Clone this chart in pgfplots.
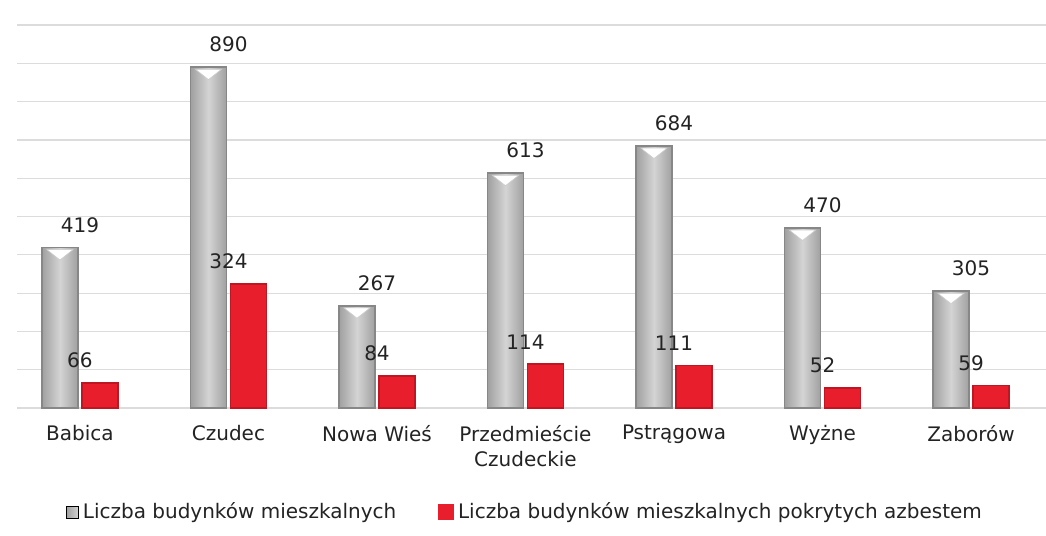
\documentclass[border=0pt]{standalone}
\usepackage{fontspec}
\setmainfont{DejaVu Sans}
\usepackage{pgfplots}
\usepackage{pgfplotstable}
\pgfplotsset{compat=1.18}
\definecolor{barred}{RGB}{232,30,44}
\definecolor{barredd}{RGB}{190,22,34}
\definecolor{grayL}{RGB}{160,160,160}
\definecolor{grayM}{RGB}{212,212,212}
\definecolor{grayB}{RGB}{135,135,135}
\definecolor{txt}{RGB}{35,35,35}
\definecolor{gridc}{RGB}{220,220,220}

\pgfplotstableread{
x total asb
0 419 66
1 890 324
2 267 84
3 613 114
4 684 111
5 470 52
6 305 59
}\data

\begin{document}
\begin{tikzpicture}
\path[use as bounding box] (-8.5pt,-64pt) rectangle (514.5pt,204pt);
\begin{axis}[
  at={(0,0)}, anchor=south west,
  scale only axis, width=514.5pt, height=191.5pt,
  xmin=-0.424, xmax=6.505, ymin=0, ymax=1000,
  clip=false,
  axis line style={draw=none},
  major tick length=0pt,
  ytick={0,100,...,1000}, yticklabels={},
  ymajorgrids, grid style={gridc, line width=0.6pt},
  xtick={0,...,6},
  xticklabels={Babica, Czudec, Nowa Wieś, {Przedmieście\\Czudeckie}, Pstrągowa, Wyżne, Zaborów},
  xticklabel style={align=center, font=\fontsize{10}{12.5}\selectfont, text=txt, yshift=-5pt},
  /pgf/number format/assume math mode=true,
  every node near coord/.append style={font=\fontsize{10}{12}\selectfont, text=txt, yshift=3.7pt},
  legend style={at={(0.5,0)}, anchor=center, xshift=-2.75pt, yshift=-52pt, draw=none, fill=none,
    font=\fontsize{10}{12}\selectfont, text=txt, legend columns=-1,
    /tikz/every even column/.append style={column sep=19pt}},
]
\pgfplotsinvokeforeach{0,...,6}{
\addplot[forget plot, ybar, bar width=18pt, bar shift=-10pt, draw=grayB, line width=0.9pt,
  left color=grayL, right color=grayL, middle color=grayM,
  nodes near coords,
  restrict expr to domain={\coordindex}{#1:#1}]
  table[x=x,y=total]{\data};
}
\addlegendimage{legend image code/.code={\shade[left color=grayL,right color=grayM] (0pt,-3pt) rectangle (6pt,3pt);}}
\addlegendentry{Liczba budynków mieszkalnych}
\addplot[ybar, bar width=18pt, bar shift=10pt, fill=barred, draw=barredd, line width=0.9pt,
  nodes near coords,
  legend image code/.code={\fill[barred] (0pt,-3.5pt) rectangle (7pt,3.5pt);}]
  table[x=x,y=asb]{\data};
\addlegendentry{Liczba budynków mieszkalnych pokrytych azbestem}
\addplot[forget plot, only marks, mark=triangle*, mark size=7.5pt,
  mark options={yshift=-2.8pt, rotate=180, yscale=0.46, fill=white, draw=gray!40, line width=0.3pt}]
  table[x expr=\thisrow{x}-0.1347, y=total]{\data};
\end{axis}
\end{tikzpicture}
\end{document}
